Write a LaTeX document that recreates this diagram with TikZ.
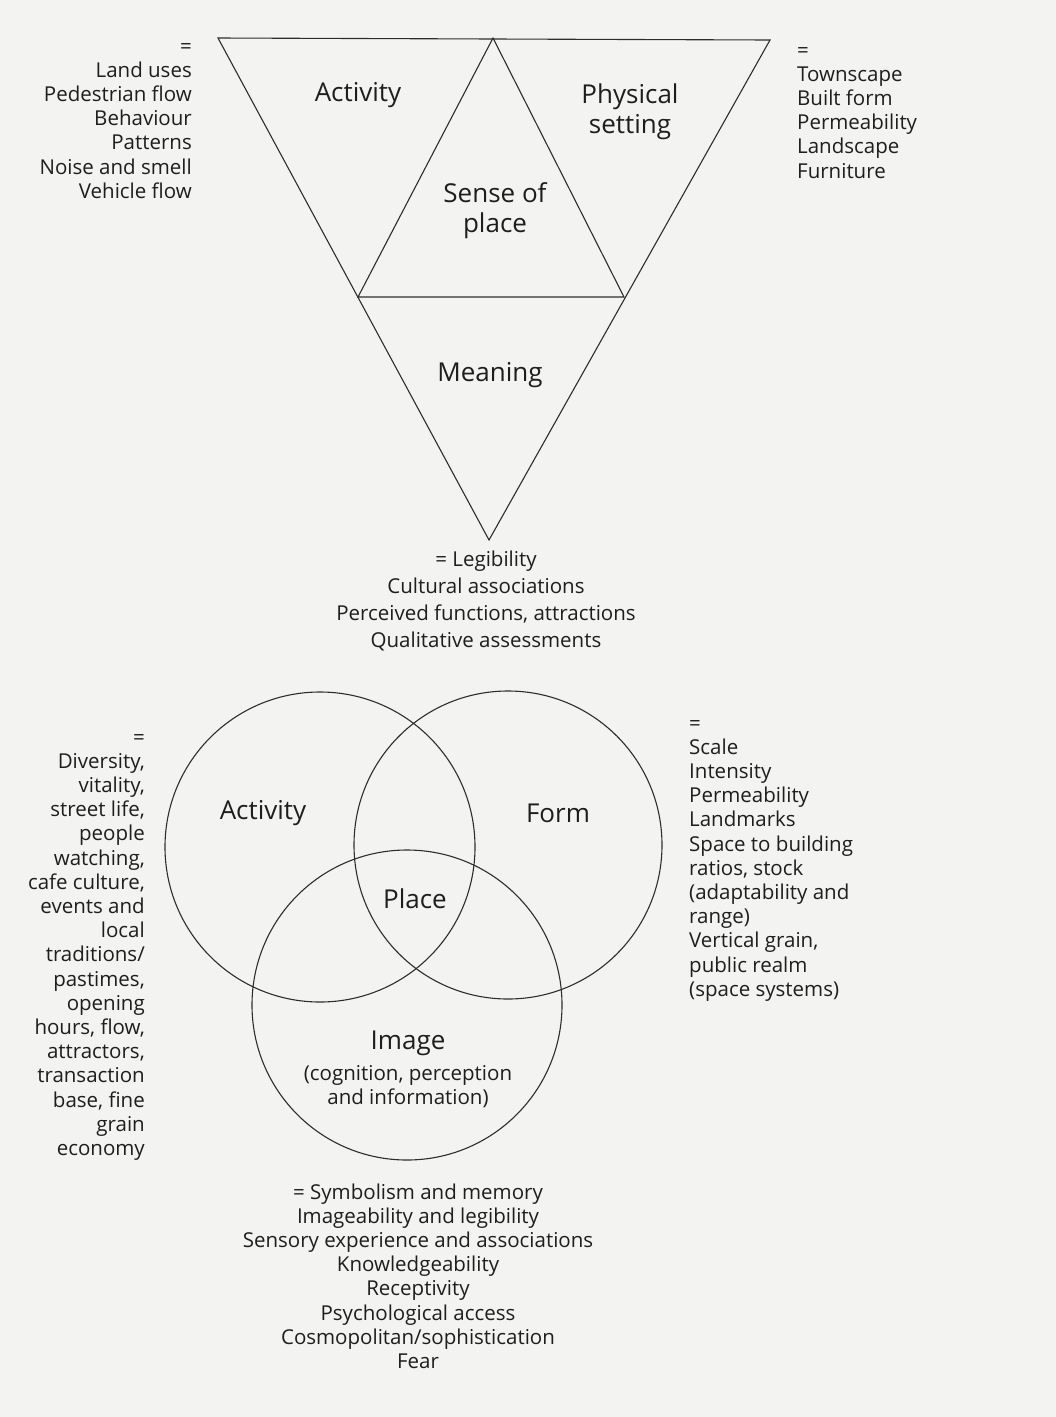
\documentclass[tikz,border=0pt]{standalone}
\usepackage{fontspec}
\setmainfont{Open Sans}
\definecolor{ink}{RGB}{30,30,30}
\definecolor{linec}{RGB}{45,45,45}
\definecolor{pagebg}{RGB}{243,243,241}
\begin{document}
\begin{tikzpicture}[x=1pt,y=-1pt,
  small/.style={font=\fontsize{20.5}{24.2}\selectfont, text=ink, inner sep=0pt},
  big/.style={font=\fontsize{26}{30}\selectfont, text=ink, inner sep=0pt, align=center},
  edge/.style={draw=linec, line width=1.1pt, line join=miter}]
\fill[pagebg] (0,0) rectangle (1056,1417);
\useasboundingbox (0,0) rectangle (1056,1417);

% ---------- triangles ----------
\coordinate (TL) at (218,38);
\coordinate (TM) at (493,38);
\coordinate (TR) at (770,40);
\coordinate (ML) at (358,297);
\coordinate (MR) at (624,297);
\coordinate (B)  at (489,540);
\draw[edge] (TL) -- (TR) -- (B) -- cycle;
\draw[edge] (ML) -- (TM) -- (MR) -- cycle;

\node[big] (act1) at (358,95) {Activity};
\node[big] (phys) at (630,112) {Physical\\setting};
\node[big] (sop) at (495,211) {Sense of\\place};
\node[big] (mean) at (490,375) {Meaning};

\node[small, anchor=north east, align=right] (lefttop) at (192,36)
  {\strut=\\Land uses\\Pedestrian flow\\Behaviour\\Patterns\\Noise and smell\\Vehicle flow};
\node[small, anchor=north west, align=left] (righttop) at (797,40)
  {\strut=\\Townscape\\Built form\\Permeability\\Landscape\\Furniture};
\node[small, anchor=north, align=center, font=\fontsize{20.5}{26.7}\selectfont] (meanlist) at (486,548)
  {\strut= Legibility\\Cultural associations\\Perceived functions, attractions\\Qualitative assessments};

% ---------- circles ----------
\node[circle, draw=linec, line width=1.1pt, minimum size=310pt, inner sep=0pt] (cact) at (320,847) {};
\node[circle, draw=linec, line width=1.1pt, minimum size=308pt, inner sep=0pt] (cform) at (508,845) {};
\node[circle, draw=linec, line width=1.1pt, minimum size=310pt, inner sep=0pt] (cimg) at (407,1005) {};

\node[big] (act2) at (263,813) {Activity};
\node[big] (form) at (558,813) {Form};
\node[big] (place) at (415,899) {Place};
\node[big] (image) at (408,1043) {Image};
\node[small, align=center, anchor=north] (imgsub) at (408,1063)
  {\strut(cognition, perception\\and information)};

\node[small, anchor=north east, align=right] (leftlist) at (145,727)
  {\strut=\\Diversity,\\vitality,\\street life,\\people\\watching,\\cafe culture,\\events and\\local\\traditions/\\pastimes,\\opening\\hours, flow,\\attractors,\\transaction\\base, fine\\grain\\economy};
\node[small, anchor=north west, align=left] (rightlist) at (689,713)
  {\strut=\\Scale\\Intensity\\Permeability\\Landmarks\\Space to building\\ratios, stock\\(adaptability and\\range)\\Vertical grain,\\public realm\\(space systems)};
\node[small, anchor=north, align=center] (imglist) at (418,1182)
  {\strut= Symbolism and memory\\Imageability and legibility\\Sensory experience and associations\\Knowledgeability\\Receptivity\\Psychological access\\Cosmopolitan/sophistication\\Fear};
\end{tikzpicture}
\end{document}
